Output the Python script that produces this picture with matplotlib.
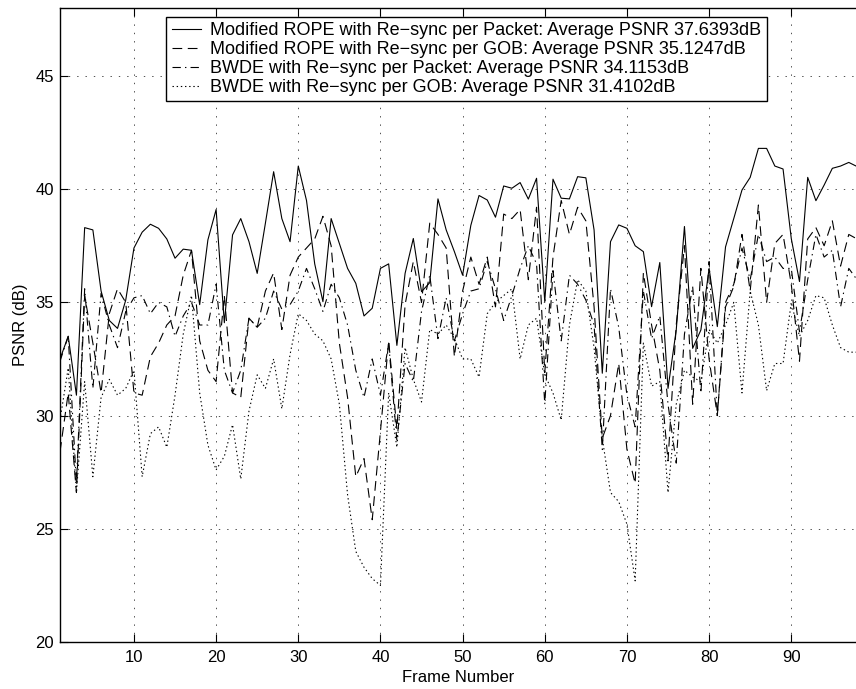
import numpy as np
import matplotlib
matplotlib.use("Agg")
import matplotlib.pyplot as plt

frames = list(range(1, 99))

rope_packet = [32.5, 33.5, 30.9, 38.3, 38.2, 35.5, 34.2, 33.85, 35.1, 37.4,
               38.1, 38.45, 38.27, 37.8, 36.95, 37.35, 37.3, 34.9, 37.76, 39.1,
               34.1, 37.98, 38.7, 37.68, 36.28, 38.5, 40.77, 38.7, 37.68, 41.02,
               39.5, 36.7, 35.03, 38.7, 37.6, 36.5, 35.84, 34.4, 34.74, 36.5,
               36.7, 33.1, 36.28, 37.82, 35.47, 35.87, 39.57, 38.2, 37.24, 36.2,
               38.4, 39.72, 39.52, 38.76, 40.14, 40.04, 40.29, 39.56, 40.48, 35.03,
               40.44, 39.6, 39.57, 40.55, 40.5, 38.2, 31.87, 37.68, 38.42, 38.27,
               37.5, 37.24, 34.81, 36.76, 31.2, 33.78, 38.35, 32.97, 33.78, 36.5,
               33.93, 37.45, 38.7, 39.96, 40.52, 41.8, 41.8, 41.02, 40.89, 37.82,
               35.92, 40.52, 39.49, 40.18, 40.92, 41.02, 41.18, 41.0]

rope_gob = [28.4, 31.0, 26.6, 35.3, 33.2, 31.0, 34.5, 35.6, 35.0, 31.0,
            30.9, 32.6, 33.2, 34.0, 34.4, 36.2, 37.3, 33.3, 32.0, 31.5,
            35.3, 31.0, 30.8, 34.3, 33.9, 35.5, 36.3, 33.8, 36.2, 37.0,
            37.4, 37.8, 38.8, 37.5, 33.2, 30.8, 27.3, 28.1, 25.4, 29.3,
            33.3, 29.4, 34.9, 36.8, 35.0, 38.5, 38.0, 37.4, 32.6, 35.5,
            37.0, 35.8, 37.0, 34.8, 38.9, 38.7, 39.1, 36.0, 39.2, 31.9,
            37.0, 39.5, 38.0, 39.2, 38.6, 34.8, 29.0, 30.0, 32.3, 28.5,
            27.0, 36.3, 34.0, 32.0, 28.0, 34.0, 37.5, 30.5, 36.5, 32.5,
            30.0, 34.8, 35.7, 38.0, 35.5, 39.3, 35.0, 37.6, 38.0, 35.8,
            32.4, 37.8, 38.3, 37.5, 38.6, 36.6, 38.0, 37.8]

bwde_packet = [32.4, 33.5, 27.0, 35.6, 31.2, 35.4, 34.0, 33.0, 34.6, 35.2,
               35.3, 34.5, 35.0, 34.8, 33.5, 34.4, 35.0, 34.0, 34.0, 35.8,
               32.0, 31.0, 32.0, 34.3, 33.9, 34.3, 35.5, 34.7, 34.9, 35.5,
               36.5, 35.6, 34.6, 35.8, 35.2, 34.0, 32.0, 30.8, 32.5, 30.9,
               33.2, 28.9, 32.3, 31.5, 34.6, 36.2, 33.4, 35.2, 33.3, 34.5,
               35.5, 35.6, 36.8, 35.6, 34.2, 35.3, 36.5, 37.5, 36.7, 30.5,
               36.4, 33.3, 36.2, 35.8, 35.1, 34.0, 28.5, 35.6, 33.9, 30.9,
               29.5, 35.5, 33.4, 34.4, 30.5, 27.9, 33.6, 35.7, 31.0, 36.8,
               30.0, 35.0, 35.8, 37.4, 36.0, 38.0, 36.8, 37.0, 36.5, 36.5,
               33.7, 36.0, 38.0, 37.0, 37.3, 34.8, 36.5, 36.0]

bwde_gob = [29.8, 32.1, 26.6, 31.5, 27.3, 30.8, 31.6, 30.9, 31.2, 32.0,
            27.3, 29.2, 29.5, 28.6, 30.9, 33.6, 35.3, 31.0, 28.7, 27.6,
            28.2, 29.6, 27.2, 30.2, 31.8, 31.2, 32.5, 30.3, 32.7, 34.5,
            34.2, 33.6, 33.3, 32.5, 30.5, 26.5, 24.0, 23.3, 22.8, 22.5,
            31.0, 28.6, 33.0, 31.6, 30.6, 33.8, 33.6, 34.0, 33.4, 32.5,
            32.5, 31.7, 34.5, 35.0, 35.3, 35.6, 32.5, 34.0, 34.3, 31.8,
            31.0, 29.8, 34.0, 36.0, 35.5, 33.0, 29.0, 26.6, 26.2, 25.2,
            22.7, 33.2, 31.3, 31.5, 26.6, 30.5, 32.0, 31.7, 31.5, 33.8,
            33.2, 34.0, 35.0, 31.0, 35.5, 34.0, 31.1, 32.3, 32.3, 35.0,
            33.5, 34.2, 35.3, 35.2, 34.0, 33.0, 32.8, 32.8]

labels = [
    "Modified ROPE with Re\u2212sync per Packet: Average PSNR 37.6393dB",
    "Modified ROPE with Re\u2212sync per GOB: Average PSNR 35.1247dB",
    "BWDE with Re\u2212sync per Packet: Average PSNR 34.1153dB",
    "BWDE with Re\u2212sync per GOB: Average PSNR 31.4102dB",
]
xticks = [10, 20, 30, 40, 50, 60, 70, 80, 90]
yticks = [20, 25, 30, 35, 40, 45]

plt.rcParams['font.family'] = ['Liberation Sans', 'DejaVu Sans']
plt.rcParams['font.size'] = 12
plt.rcParams['lines.scale_dashes'] = False

fig = plt.figure(figsize=(8.56, 6.89), dpi=100)
ax = fig.add_axes([60/856, 47/689, 797/856, 634/689])

lw = 0.8
ax.plot(frames, rope_packet, color='black', lw=lw, linestyle='-', label=labels[0])
ax.plot(frames, rope_gob, color='black', lw=lw, linestyle=(0, (7, 4)), label=labels[1])
ax.plot(frames, bwde_packet, color='black', lw=lw, linestyle=(0, (6, 3, 1, 3)), label=labels[2])
ax.plot(frames, bwde_gob, color='black', lw=lw, linestyle=(0, (1, 2)), label=labels[3])

ax.set_xlim(1, 98)
ax.set_ylim(20, 48)
ax.set_xticks(xticks)
ax.set_yticks(yticks)
ax.grid(True, color='#333333', linestyle=(0, (1, 5)), linewidth=0.6)
ax.tick_params(direction='in', top=True, right=False, length=6, width=0.8, labelsize=12)
ax.tick_params(axis='x', pad=6)
ax.tick_params(axis='y', pad=4.5)
for s in ['left', 'bottom', 'top']:
    ax.spines[s].set_linewidth(1.0)
ax.spines['right'].set_visible(False)

ax.set_xlabel("Frame Number", fontsize=12, labelpad=3)
ax.set_ylabel("PSNR (dB)", fontsize=12, labelpad=5)

leg = ax.legend(loc='upper right', bbox_to_anchor=(767/856, 1 - 17/689),
                bbox_transform=fig.transFigure, frameon=True, fancybox=False,
                shadow=False, framealpha=1, edgecolor='black', fontsize=13,
                handlelength=1.6, handletextpad=0.55, labelspacing=0.1,
                borderpad=0.3, borderaxespad=0)
leg.get_frame().set_linewidth(1.0)

fig.savefig("out.png", dpi=100)
